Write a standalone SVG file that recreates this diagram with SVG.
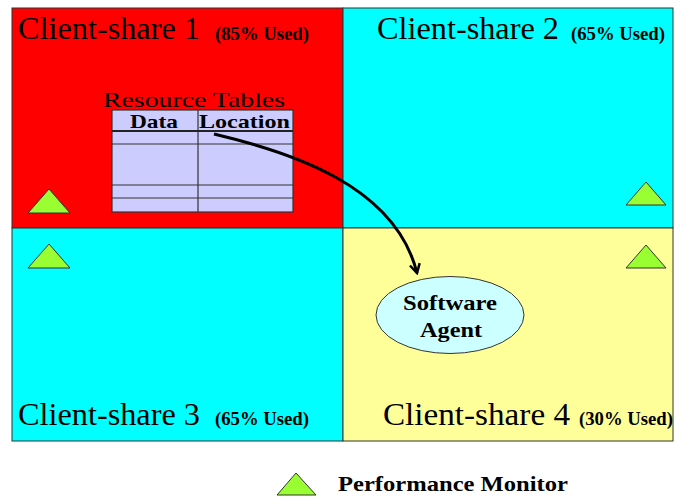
<svg xmlns="http://www.w3.org/2000/svg" width="684" height="498" viewBox="0 0 684 498">
<style>
.q{stroke:#333;stroke-width:1}
.big{font-family:"Liberation Serif","Times New Roman",serif;font-size:31px;fill:#000}
.sm{font-family:"Liberation Serif","Times New Roman",serif;font-size:18px;font-weight:bold;fill:#000}
.tri{fill:#99ff33;stroke:#333;stroke-width:1}
.tl{stroke:#333;stroke-width:1.2;fill:none}
.hd{font-family:"Liberation Serif","Times New Roman",serif;font-size:21px;font-weight:bold;fill:#000}
</style>
<defs>
<marker id="arr" viewBox="0 0 12 12" refX="10" refY="6" markerWidth="12" markerHeight="12" markerUnits="userSpaceOnUse" orient="auto">
<path d="M1,1 L10,6 L1,11" fill="none" stroke="#000" stroke-width="2.5"/>
</marker>
</defs>
<rect width="684" height="498" fill="#fff"/>
<g id="share1">
<rect class="q" x="12" y="8" width="331" height="220" fill="#ff0000"/>
<text class="big" x="18" y="39" textLength="182" lengthAdjust="spacingAndGlyphs">Client-share 1</text>
<text class="sm" x="215" y="40" textLength="94" lengthAdjust="spacingAndGlyphs">(85% Used)</text>
</g>
<g id="share2">
<rect class="q" x="343" y="8" width="330" height="220" fill="#00ffff"/>
<text class="big" x="377" y="39" textLength="182" lengthAdjust="spacingAndGlyphs">Client-share 2</text>
<text class="sm" x="571" y="40" textLength="94" lengthAdjust="spacingAndGlyphs">(65% Used)</text>
</g>
<g id="share3">
<rect class="q" x="12" y="228" width="331" height="213" fill="#00ffff"/>
<text class="big" x="18" y="425" textLength="182" lengthAdjust="spacingAndGlyphs">Client-share 3</text>
<text class="sm" x="215" y="425" textLength="94" lengthAdjust="spacingAndGlyphs">(65% Used)</text>
</g>
<g id="share4">
<rect class="q" x="343" y="228" width="330" height="213" fill="#ffff99"/>
<text class="big" x="383" y="425" textLength="187" lengthAdjust="spacingAndGlyphs">Client-share 4</text>
<text class="sm" x="579" y="425" textLength="94" lengthAdjust="spacingAndGlyphs">(30% Used)</text>
</g>
<g id="resource-tables">
<text class="big" style="font-size:21px" x="103" y="106.5" textLength="182" lengthAdjust="spacingAndGlyphs">Resource Tables</text>
<rect x="112" y="110" width="181" height="102" fill="#ccccff" stroke="#333" stroke-width="1.2"/>
<line class="tl" x1="198" y1="110" x2="198" y2="212"/>
<line x1="112" y1="131" x2="293" y2="131" stroke="#222" stroke-width="2"/>
<line class="tl" x1="112" y1="144" x2="293" y2="144"/>
<line class="tl" x1="112" y1="185" x2="293" y2="185"/>
<line class="tl" x1="112" y1="198" x2="293" y2="198"/>
<text class="hd" style="font-size:19px" x="130" y="128" textLength="48" lengthAdjust="spacingAndGlyphs">Data</text>
<text class="hd" style="font-size:19px" x="199" y="128" textLength="91" lengthAdjust="spacingAndGlyphs">Location</text>
</g>
<g id="monitors">
<polygon class="tri" points="28,213 49,189 70,213"/>
<polygon class="tri" points="626,205 646,182 666,205"/>
<polygon class="tri" points="28,268 49,244 70,268"/>
<polygon class="tri" points="626,268 646,245 666,268"/>
</g>
<g id="software-agent">
<ellipse cx="450" cy="315" rx="74" ry="38.5" fill="#ccffff" stroke="#333" stroke-width="1"/>
<text class="hd" x="403" y="310" textLength="94" lengthAdjust="spacingAndGlyphs">Software</text>
<text class="hd" x="420" y="337" textLength="62" lengthAdjust="spacingAndGlyphs">Agent</text>
</g>
<g id="connectors">
<path d="M214,134 C290,152 395,185 417,273" fill="none" stroke="#000" stroke-width="3" marker-end="url(#arr)"/>
</g>
<g id="legend">
<polygon class="tri" points="277,495 296,473 316,495"/>
<text class="hd" style="font-size:22px" x="338" y="491" textLength="230" lengthAdjust="spacingAndGlyphs">Performance Monitor</text>
</g>
</svg>
